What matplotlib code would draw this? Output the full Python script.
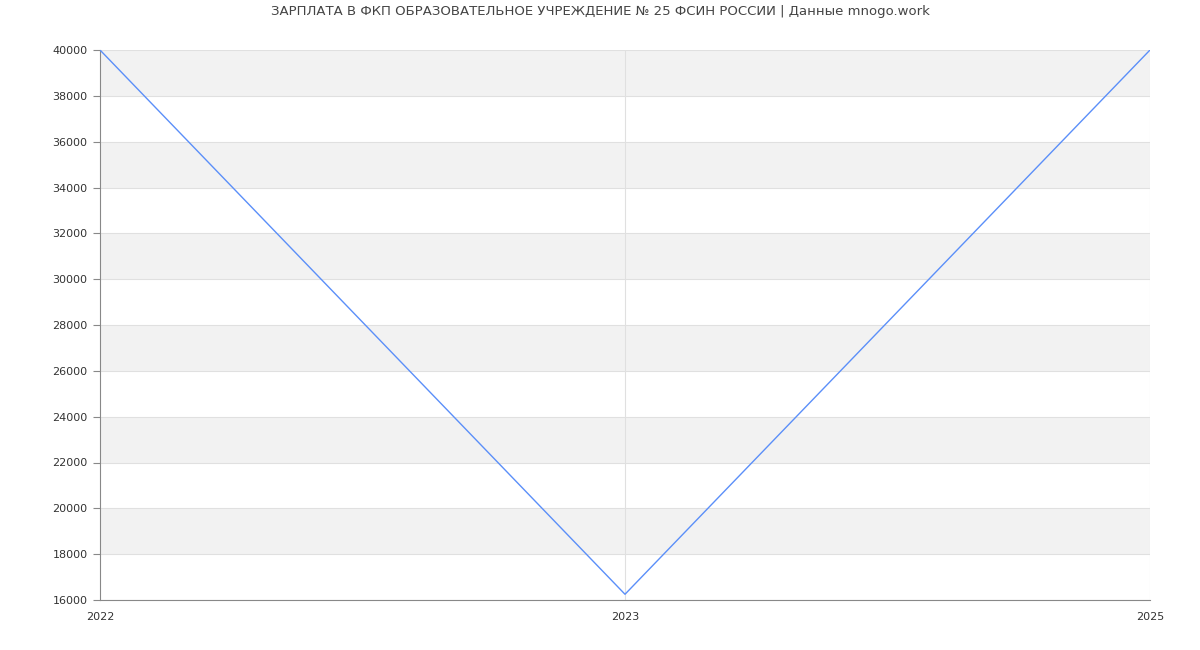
import matplotlib
matplotlib.use("Agg")
from matplotlib import pyplot as plt
import numpy as np

years = ["2022", "2023", "2025"]
salary = [40000, 16250, 40000]
y_ticks = list(range(16000, 40001, 2000))

fig = plt.figure(figsize=(12, 6.5), dpi=100)
ax = fig.add_axes([100/1200, 50/650, 1050/1200, 550/650])

x = np.arange(len(years))
# alternating bands
for lo in range(18000, 40000, 4000):
    ax.axhspan(lo, lo + 2000, color="#f2f2f2", zorder=0, lw=0)
for t in y_ticks:
    ax.axhline(t, color="#e0e0e0", lw=0.8, zorder=1)
for xi in x[1:]:
    ax.axvline(xi, color="#e0e0e0", lw=0.8, zorder=1)

ax.plot(x, salary, color="#5b8ff9", lw=1, zorder=3)

ax.set_xlim(0, len(years) - 1)
ax.set_ylim(16000, 40000)
ax.set_xticks(x)
ax.set_xticklabels(years)
ax.set_yticks(y_ticks)
ax.tick_params(axis="x", length=0, pad=9, labelsize=8, colors="#333333")
ax.tick_params(axis="y", length=5, width=0.8, color="#888888", pad=4, labelsize=8, labelcolor="#333333")
for s in ["top", "right"]:
    ax.spines[s].set_visible(False)
for s in ["left", "bottom"]:
    ax.spines[s].set_color("#888888")
    ax.spines[s].set_linewidth(0.8)

fig.text(0.5, 1 - 12/650, "ЗАРПЛАТА В ФКП ОБРАЗОВАТЕЛЬНОЕ УЧРЕЖДЕНИЕ № 25 ФСИН РОССИИ | Данные mnogo.work",
         ha="center", va="center", fontsize=9.5, color="#444444")

fig.savefig("out.png", dpi=100)
